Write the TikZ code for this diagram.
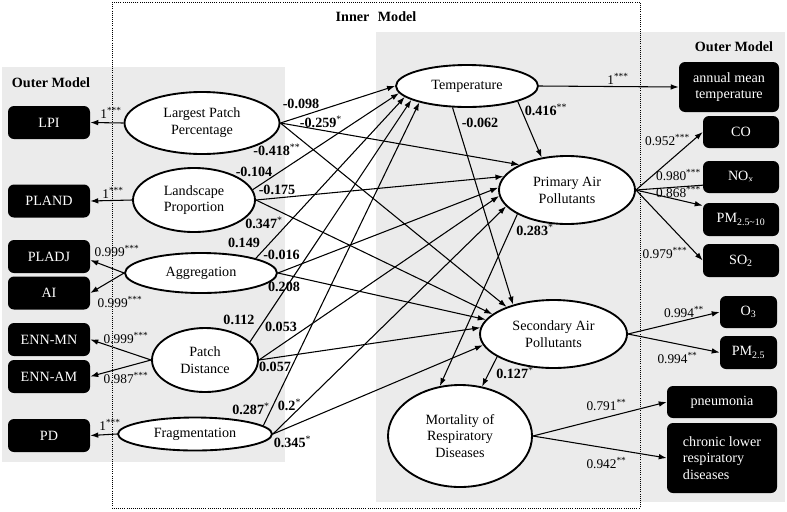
\documentclass[tikz,border=0pt]{standalone}
\usepackage{fontspec}
\setmainfont{Liberation Serif}
\usetikzlibrary{arrows.meta,shapes.geometric,calc}
\definecolor{panel}{RGB}{235,235,235}
\newcommand\sigst[1]{\textsuperscript{\normalfont #1}}
\begin{document}
\begin{tikzpicture}[x=0.75pt,y=-0.75pt,
  lat/.style={ellipse,draw,line width=1.4pt,fill=white,inner sep=0pt,align=center,font=\fontsize{10.6}{12.6}\selectfont},
  esz/.style 2 args={minimum width={#1*0.75pt},minimum height={#2*0.75pt}},
  obs/.style={rectangle,rounded corners=4.5pt,fill=black,text=white,inner sep=0pt,align=center,font=\fontsize{10.6}{12.6}\selectfont},
  arr/.style={-{Latex[length=6pt,width=4.2pt]},line width=0.8pt},
  coef/.style={font=\fontsize{10.6}{12}\selectfont\bfseries,inner sep=0pt},
  load/.style={font=\fontsize{10}{12}\selectfont,inner sep=0pt},
  ttl/.style={font=\fontsize{10.6}{12}\selectfont\bfseries,inner sep=0pt}]
\useasboundingbox (0,0) rectangle (787,511);
% panels
\fill[panel] (2,67) rectangle (285,462);
\fill[panel] (376,32) rectangle (785,502);
\draw[line width=0.7pt,dash pattern=on 0.7pt off 0.9pt] (112,2) rectangle (640,508);
% titles
\node[ttl] (tin) at (376,17) {Inner\hspace{0.6em}Model};
\node[ttl] (tol) at (51,83) {Outer Model};
\node[ttl] (tor) at (734,47) {Outer Model};
% latent variables
\node[lat,esz={155}{62}] (lpp) at (202,123) {Largest Patch\\Percentage};
\node[lat,esz={122}{64}] (lp) at (194,200) {Landscape\\Proportion};
\node[lat,esz={152}{40}] (agg) at (201,273) {Aggregation};
\node[lat,esz={106}{64}] (pdist) at (205,360) {Patch\\Distance};
\node[lat,esz={154}{33}] (frag) at (195,434) {Fragmentation};
\node[lat,esz={142}{42}] (temp) at (467,86) {Temperature};
\node[lat,esz={136}{68}] (prim) at (567,190) {Primary Air\\Pollutants};
\node[lat,esz={147}{68}] (sec) at (553.5,334) {Secondary Air\\Pollutants};
\node[lat,esz={144}{102}] (mort) at (460,436) {Mortality of\\Respiratory\\Diseases};
% indicators left
\node[obs,esz={82}{33}] (lpi) at (49,122.5) {LPI};
\node[obs,esz={82}{33}] (pland) at (49,201) {PLAND};
\node[obs,esz={82}{33}] (pladj) at (49,256.5) {PLADJ};
\node[obs,esz={82}{33}] (ai) at (49,293) {AI};
\node[obs,esz={82}{33}] (ennmn) at (49,339.5) {ENN-MN};
\node[obs,esz={82}{33}] (ennam) at (49,376.5) {ENN-AM};
\node[obs,esz={82}{33}] (pdbox) at (49,435.5) {PD};
% indicators right
\node[obs,esz={100}{50}] (amt) at (729,87) {annual mean\\temperature};
\node[obs,esz={76}{32}] (co) at (741,132) {CO};
\node[obs,esz={76}{32}] (nox) at (741,177) {NO\textsubscript{x}};
\node[obs,esz={76}{33}] (pm10) at (741,219.5) {PM\textsubscript{2.5\textasciitilde10}};
\node[obs,esz={76}{33}] (so2) at (741,260.5) {SO\textsubscript{2}};
\node[obs,esz={57}{32}] (o3) at (748.5,312) {O\textsubscript{3}};
\node[obs,esz={57}{33}] (pm25) at (748.5,352.5) {PM\textsubscript{2.5}};
\node[obs,esz={110}{32}] (pneu) at (722,402) {pneumonia};
\node[obs,esz={110}{70},align=left] (chr) at (722,458) {chronic lower\\respiratory\\diseases};
% outer model arrows
\draw[arr] (lpp.west) -- (lpi.east);
\draw[arr] (lp.west) -- (pland.east);
\draw[arr] (agg.west) -- (pladj.-5);
\draw[arr] (agg.west) -- (ai.east);
\draw[arr] (pdist.west) -- (ennmn.east);
\draw[arr] (pdist.west) -- (ennam.east);
\draw[arr] (frag.west) -- (pdbox.east);
\draw[arr] (temp.east) -- (amt.west);
\draw[arr] (prim.east) -- (co.west);
\draw[arr] (prim.east) -- (nox.-4);
\draw[arr] (prim.east) -- (pm10.160);
\draw[arr] (prim.east) -- (so2.west);
\draw[arr] (sec.east) -- (o3.west);
\draw[arr] (sec.east) -- (pm25.west);
\draw[arr] (mort.east) -- (pneu.west);
\draw[arr] (mort.east) -- (chr.west);
% inner model arrows
\draw[arr] (lpp.east) -- (temp.180);
\draw[arr] (lpp.east) -- (prim.152);
\draw[arr] (lpp.east) -- (sec.150);
\draw[arr] (lp.10) -- (temp.186);
\draw[arr] (lp.east) -- (prim.168);
\draw[arr] (lp.east) -- (sec.162);
\draw[arr] (agg.15) -- (temp.190);
\draw[arr] (agg.east) -- (prim.178);
\draw[arr] (agg.east) -- (sec.168);
\draw[arr] (pdist.22) -- (temp.194);
\draw[arr] (pdist.east) -- (prim.185);
\draw[arr] (pdist.east) -- (sec.175);
\draw[arr] (frag.7) -- (temp.199);
\draw[arr] (frag.east) -- (prim.195);
\draw[arr] (frag.east) -- (sec.189);
\draw[arr] (temp.-17) -- (prim.128);
\draw[arr] (temp.236) -- (sec.144);
\draw[arr] (prim.206) -- (mort.112);
\draw[arr] (sec.202) -- (mort.66);
% loadings
\node[load] (w1) at (111,113) {1\sigst{***}};
\node[load] (w2) at (113,193) {1\sigst{***}};
\node[load] (w3) at (117,251) {0.999\sigst{***}};
\node[load] (w4) at (120,302) {0.999\sigst{***}};
\node[load] (w5) at (126,338) {0.999\sigst{***}};
\node[load] (w6) at (126,378) {0.987\sigst{***}};
\node[load] (w7) at (110,425) {1\sigst{***}};
\node[load] (w8) at (618,79) {1\sigst{***}};
\node[load] (w9) at (667.5,140) {0.952\sigst{***}};
\node[load] (w10) at (678.5,175) {0.980\sigst{***}};
\node[load] (w11) at (678.5,192) {0.868\sigst{***}};
\node[load] (w12) at (665,253) {0.979\sigst{***}};
\node[load] (w13) at (684,312) {0.994\sigst{**}};
\node[load] (w14) at (677.5,358) {0.994\sigst{**}};
\node[load] (w15) at (606.5,405) {0.791\sigst{**}};
\node[load] (w16) at (606.5,463) {0.942\sigst{**}};
% path coefficients
\node[coef] (c1) at (301,104) {-0.098};
\node[coef] (c2) at (321,122) {-0.259\sigst{*}};
\node[coef] (c3) at (277,150) {-0.418\sigst{**}};
\node[coef] (c4) at (254,172) {-0.104};
\node[coef] (c5) at (277,190) {-0.175};
\node[coef] (c6) at (264,223) {0.347\sigst{*}};
\node[coef] (c7) at (244,243) {0.149};
\node[coef] (c8) at (281.5,255) {-0.016};
\node[coef] (c9) at (284,287) {0.208};
\node[coef] (c10) at (239,320) {0.112};
\node[coef] (c11) at (281,327) {0.053};
\node[coef] (c12) at (275,367) {0.057};
\node[coef] (c13) at (251,409) {0.287\sigst{*}};
\node[coef] (c14) at (289.5,405) {0.2\sigst{*}};
\node[coef] (c15) at (292.5,442) {0.345\sigst{*}};
\node[coef] (c16) at (546,110) {0.416\sigst{**}};
\node[coef] (c17) at (480,123) {-0.062};
\node[coef] (c18) at (535,230) {0.283\sigst{*}};
\node[coef] (c19) at (515,373) {0.127\sigst{*}};
\end{tikzpicture}
\end{document}
